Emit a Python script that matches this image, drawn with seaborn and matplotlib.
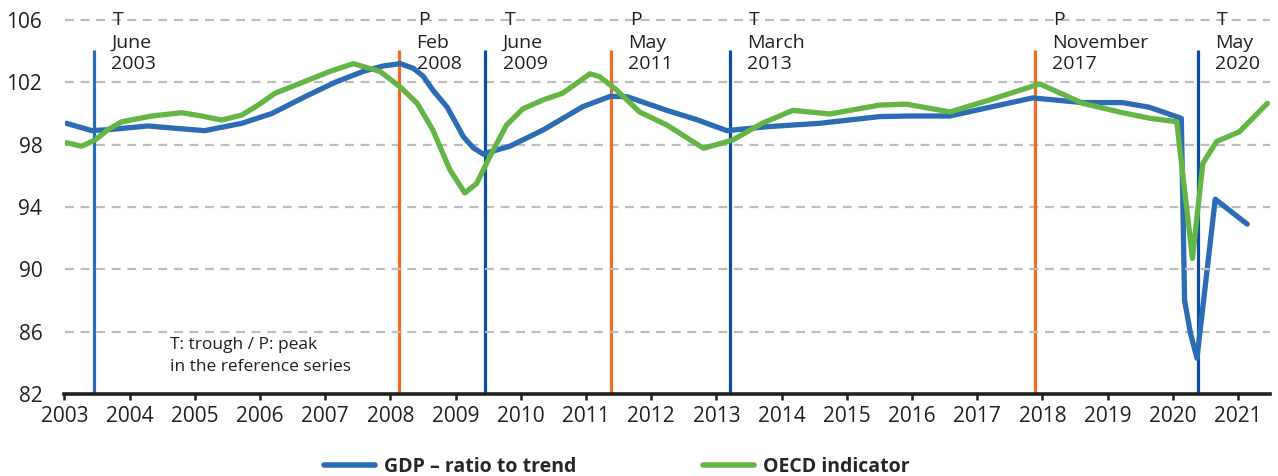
import matplotlib
matplotlib.use("Agg")
import matplotlib.pyplot as plt
from matplotlib.lines import Line2D
import seaborn as sns
import pandas as pd

# ---------------- data ----------------
gdp_dates = [2003.03, 2003.42, 2003.72, 2004.28, 2004.7, 2005.15, 2005.72, 2006.18, 2006.69,
             2007.15, 2007.58, 2007.89, 2008.15, 2008.35, 2008.5, 2008.65, 2008.87, 2009.02,
             2009.12, 2009.27, 2009.42, 2009.83, 2010.34, 2010.95, 2011.37, 2011.63, 2012.24,
             2012.70, 2013.16, 2013.77, 2014.58, 2015.5, 2015.96, 2016.58, 2017.19, 2017.85,
             2018.62, 2019.23, 2019.64, 2020.13, 2020.18, 2020.27, 2020.37, 2020.65, 2021.14]
gdp_values = [99.37, 98.9, 98.98, 99.2, 99.05, 98.9, 99.37, 100.0, 101.08,
              102.0, 102.7, 103.05, 103.2, 102.9, 102.4, 101.5, 100.4, 99.26,
              98.5, 97.8, 97.4, 97.9, 98.94, 100.44, 101.1, 101.08, 100.2,
              99.6, 98.9, 99.15, 99.37, 99.8, 99.84, 99.84, 100.4, 101.0,
              100.7, 100.7, 100.4, 99.69, 88.0, 85.9, 84.3, 94.5, 92.9]

oecd_dates = [2003.03, 2003.26, 2003.47, 2003.67, 2003.88, 2004.34, 2004.80, 2005.1, 2005.41,
              2005.72, 2005.97, 2006.23, 2006.64, 2007.07, 2007.43, 2007.84, 2008.15, 2008.41,
              2008.65, 2008.91, 2009.14, 2009.32, 2009.52, 2009.78, 2010.03, 2010.34, 2010.64,
              2011.06, 2011.21, 2011.47, 2011.82, 2012.24, 2012.8, 2013.25, 2013.7, 2014.17,
              2014.74, 2015.5, 2015.91, 2016.58, 2017.19, 2017.96, 2018.62, 2019.23, 2019.64,
              2020.06, 2020.3, 2020.46, 2020.67, 2021.02, 2021.45]
oecd_values = [98.13, 97.9, 98.3, 98.98, 99.47, 99.84, 100.05, 99.84, 99.58,
               99.9, 100.54, 101.3, 101.98, 102.7, 103.2, 102.7, 101.7, 100.65,
               98.94, 96.4, 94.9, 95.5, 97.2, 99.26, 100.3, 100.87, 101.3,
               102.55, 102.36, 101.5, 100.1, 99.26, 97.77, 98.3, 99.37, 100.2,
               99.97, 100.54, 100.6, 100.1, 100.87, 101.9, 100.65, 100.05, 99.7,
               99.47, 90.7, 96.8, 98.2, 98.83, 100.65]

event_dates = [2003.45, 2008.13, 2009.45, 2011.38, 2013.2, 2017.88, 2020.38]
event_types = ["T", "P", "T", "P", "T", "P", "T"]
event_labels = ["June\n2003", "Feb\n2008", "June\n2009", "May\n2011", "March\n2013",
                "November\n2017", "May\n2020"]

year_ticks = list(range(2003, 2022))
value_ticks = [82, 86, 90, 94, 98, 102, 106]

series_names = ["GDP – ratio to trend", "OECD indicator"]
note_text = "T: trough / P: peak\nin the reference series"

# ---------------- style ----------------
sns.set_theme(style="white")
plt.rcParams["font.family"] = ["Open Sans", "DejaVu Sans"]

C_GDP = "#2B6CB5"
C_OECD = "#64B446"
C_TROUGH_FIRST = "#2B6CB5"
C_TROUGH = "#0B4EA2"
C_PEAK = "#F36A21"
TXT = "#231F20"

df = pd.concat([
    pd.DataFrame({"date": gdp_dates, "value": gdp_values, "series": series_names[0]}),
    pd.DataFrame({"date": oecd_dates, "value": oecd_values, "series": series_names[1]}),
], ignore_index=True)

fig = plt.figure(figsize=(12.78, 4.76), dpi=100)
ax = fig.add_axes([64.5 / 1278, 1 - 394 / 476, (1270 - 64.5) / 1278, (394 - 20) / 476])

# gridlines
for v in value_ticks[1:]:
    ax.axhline(v, color="#BDBDBD", lw=1.6, ls=(0, (4, 3)), zorder=0, clip_on=False)
ax.grid(False)

# event lines
first_trough = True
for d, t, lab in zip(event_dates, event_types, event_labels):
    if t == "T":
        col = C_TROUGH_FIRST if first_trough else C_TROUGH
        first_trough = False
    else:
        col = C_PEAK
    ax.vlines(d, 82, 104.07, color=col, lw=2.3, zorder=3)
    ax.text(d + 0.38, 106, t, ha="center", va="center", fontsize=14, color=TXT, zorder=5)
    ax.text(d + 0.27, 105.12, lab, ha="left", va="top", fontsize=14, color=TXT,
            linespacing=1.22, zorder=5)

sns.lineplot(data=df, x="date", y="value", hue="series", sort=True,
             palette=[C_GDP, C_OECD], hue_order=series_names,
             lw=3.8, ax=ax, legend=False, zorder=4)
for line, z in zip(ax.get_lines(), [4, 4.5]):
    line.set_zorder(z)
    line.set_solid_joinstyle("round")
    line.set_solid_capstyle("butt")

ax.text(2004.62, 84.45, note_text, ha="left", va="center",
        fontsize=12.5, color=TXT, linespacing=1.45)

ax.set_xlim(2003, 2021.49)
ax.set_ylim(82, 106)
ax.set_xticks(year_ticks)
ax.set_xticklabels([str(y) for y in year_ticks])
ax.set_yticks(value_ticks)
ax.set_yticklabels([str(v) for v in value_ticks])
ax.set_xlabel("")
ax.set_ylabel("")

for s in ["left", "right", "top"]:
    ax.spines[s].set_visible(False)
ax.spines["bottom"].set_color("#231F20")
ax.spines["bottom"].set_linewidth(2.6)
ax.spines["bottom"].set_zorder(6)
ax.tick_params(axis="x", direction="out", length=4.5, width=1.8, color="#231F20",
               labelsize=15, labelcolor=TXT, pad=4, bottom=True)
ax.tick_params(axis="y", length=0, labelsize=15, labelcolor=TXT, pad=16)

handles = [Line2D([], [], color=C_GDP, lw=4), Line2D([], [], color=C_OECD, lw=4)]
fig.legend(handles, series_names, loc="center", bbox_to_anchor=(617 / 1278, 1 - 467 / 476),
           ncol=2, frameon=False, handlelength=2.6, handletextpad=0.5, columnspacing=6.5,
           prop={"family": ["Open Sans", "DejaVu Sans"], "weight": "bold", "size": 14})

fig.savefig("out.png", dpi=100)
